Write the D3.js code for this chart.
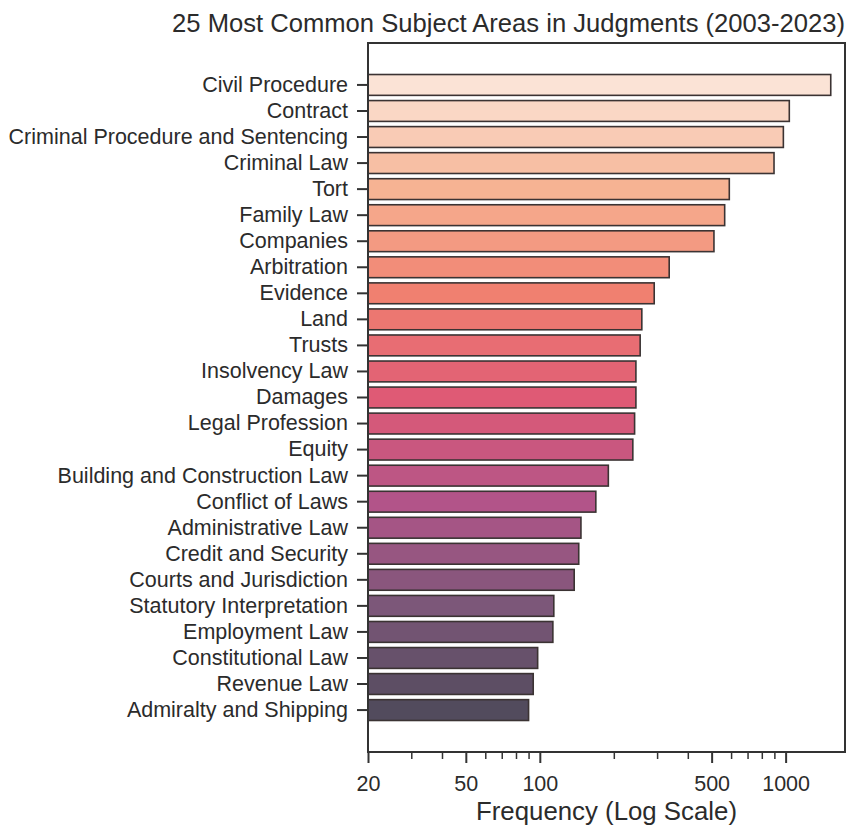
<!DOCTYPE html>
<html>
<head>
<meta charset="utf-8">
<script src="https://cdn.jsdelivr.net/npm/d3@7"></script>
<style>
  html, body { margin: 0; padding: 0; background: #ffffff; }
  svg { display: block; font-family: "Liberation Sans", Arial, sans-serif; }
</style>
</head>
<body>
<svg id="chart" width="848" height="828"></svg>
<script>
// Subject areas, ordered from most to least frequent
const subjects = [
  "Civil Procedure", "Contract", "Criminal Procedure and Sentencing", "Criminal Law",
  "Tort", "Family Law", "Companies", "Arbitration", "Evidence", "Land", "Trusts",
  "Insolvency Law", "Damages", "Legal Profession", "Equity",
  "Building and Construction Law", "Conflict of Laws", "Administrative Law",
  "Credit and Security", "Courts and Jurisdiction", "Statutory Interpretation",
  "Employment Law", "Constitutional Law", "Revenue Law", "Admiralty and Shipping"
];

// Number of judgments tagged with each subject area
const frequencies = [
  1526, 1035, 979, 897, 590, 565, 511, 336, 292, 260, 256,
  246, 246, 243, 239, 190, 169, 147, 144, 138, 114, 113, 98, 94, 90
];

// Labelled (major) and unlabelled (minor) ticks on the log axis
const majorTicks = [20, 50, 100, 500, 1000];
const minorTicks = [30, 40, 60, 70, 80, 90, 200, 300, 400, 600, 700, 800, 900];

const xDomain = [20, 1744];

const titleText = "25 Most Common Subject Areas in Judgments (2003-2023)";
const xLabelText = "Frequency (Log Scale)";

// Sequential palette, light peach down to muted slate purple
const paletteStops = ["#fbe3d6", "#f6b393", "#f08070", "#df5a75", "#b25489", "#7c5779", "#524b5d"];
const palette = d3.piecewise(d3.interpolateRgb, paletteStops);

const plot = { left: 368, right: 845, top: 43, bottom: 752 };
const textColor = "#2b2b2b";
const lineColor = "#333333";

const svg = d3.select("#chart");

const x = d3.scaleLog()
  .domain(xDomain)
  .range([plot.left, plot.right]);

const y = d3.scaleBand()
  .domain(subjects)
  .range([plot.top, plot.bottom])
  .paddingInner(0.2)
  .paddingOuter(1.21)
  .align(0.5);

// Bars
svg.append("g")
  .selectAll("rect")
  .data(subjects.map((s, i) => ({ subject: s, value: frequencies[i], i })))
  .join("rect")
  .attr("x", x(xDomain[0]))
  .attr("y", d => y(d.subject))
  .attr("width", d => x(d.value) - x(xDomain[0]))
  .attr("height", y.bandwidth())
  .attr("fill", d => palette(d.i / (subjects.length - 1)))
  .attr("stroke", "#3b3333")
  .attr("stroke-width", 1.6);

// Y axis (category labels)
const yAxis = svg.append("g")
  .attr("transform", `translate(${plot.left},0)`)
  .call(d3.axisLeft(y).tickSize(11).tickPadding(9));
yAxis.select(".domain").remove();
yAxis.selectAll(".tick line").attr("stroke", lineColor).attr("stroke-width", 2);
yAxis.selectAll(".tick text")
  .attr("fill", textColor)
  .style("font-size", "21.5px")
  .style("font-family", "'Liberation Sans', Arial, sans-serif");

// X axis, major ticks with labels
const xAxis = svg.append("g")
  .attr("transform", `translate(0,${plot.bottom})`)
  .call(d3.axisBottom(x).tickValues(majorTicks).tickFormat(d3.format("d")).tickSize(11).tickPadding(13));
xAxis.select(".domain").remove();
xAxis.selectAll(".tick line").attr("stroke", lineColor).attr("stroke-width", 2);
xAxis.selectAll(".tick text")
  .attr("fill", textColor)
  .style("font-size", "21.5px")
  .style("font-family", "'Liberation Sans', Arial, sans-serif");

// X axis, minor ticks
const xMinor = svg.append("g")
  .attr("transform", `translate(0,${plot.bottom})`)
  .call(d3.axisBottom(x).tickValues(minorTicks).tickFormat("").tickSize(7));
xMinor.select(".domain").remove();
xMinor.selectAll(".tick line").attr("stroke", lineColor).attr("stroke-width", 1.5);

// Plot frame
svg.append("rect")
  .attr("x", plot.left)
  .attr("y", plot.top)
  .attr("width", plot.right - plot.left)
  .attr("height", plot.bottom - plot.top)
  .attr("fill", "none")
  .attr("stroke", lineColor)
  .attr("stroke-width", 2);

// Axis title
svg.append("text")
  .attr("x", (plot.left + plot.right) / 2)
  .attr("y", 820)
  .attr("text-anchor", "middle")
  .attr("fill", textColor)
  .style("font-size", "25.8px")
  .text(xLabelText);

// Chart title
svg.append("text")
  .attr("x", 845)
  .attr("y", 32)
  .attr("text-anchor", "end")
  .attr("fill", textColor)
  .style("font-size", "25.6px")
  .text(titleText);
</script>
</body>
</html>
